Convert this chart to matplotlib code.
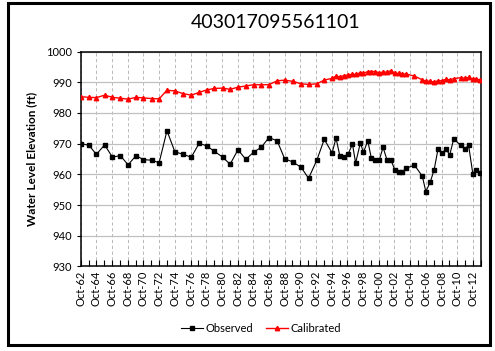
"""Observed vs calibrated water level hydrograph for well 403017095561101."""

import matplotlib

matplotlib.use("Agg")
import matplotlib.pyplot as plt  # noqa: E402
from matplotlib.patches import Rectangle  # noqa: E402

plt.rcParams["font.family"] = ["Lato", "DejaVu Sans"]

WELL_ID = "403017095561101"

# decimal years of each measurement (shared by both series)
years = [
    1962.75, 1963.8, 1964.75, 1965.8, 1966.8, 1967.8, 1968.8, 1969.8, 1970.75, 1971.8,
    1972.75, 1973.75, 1974.75, 1975.8, 1976.85, 1977.85, 1978.8, 1979.8, 1980.85, 1981.8,
    1982.8, 1983.8, 1984.8, 1985.8, 1986.75, 1987.8, 1988.75, 1989.8, 1990.85, 1991.8,
    1992.85, 1993.8, 1994.8, 1995.3, 1995.8, 1996.35, 1996.85, 1997.4, 1997.8, 1998.4,
    1998.8, 1999.35, 1999.8, 2000.3, 2000.8, 2001.3, 2001.8, 2002.3, 2002.8, 2003.3,
    2003.75, 2004.25, 2005.3, 2006.3, 2006.75, 2007.3, 2007.8, 2008.3, 2008.8, 2009.3,
    2009.8, 2010.3, 2011.2, 2011.7, 2012.2, 2012.75, 2013.2, 2013.7,
]
observed = [
    970.0, 969.5, 966.5, 969.6, 965.6, 966.1, 963.1, 966.1, 964.8, 964.6,
    963.8, 974.2, 967.4, 966.5, 965.6, 970.1, 969.3, 967.5, 965.6, 963.3,
    968.0, 964.9, 967.2, 968.9, 972.0, 970.9, 965.1, 964.0, 962.3, 958.7,
    964.6, 971.4, 967.0, 971.8, 965.9, 965.8, 966.7, 969.8, 963.7, 970.2,
    967.2, 970.9, 965.3, 964.6, 964.6, 968.8, 964.7, 964.7, 961.4, 960.7,
    960.7, 962.0, 963.0, 959.4, 954.4, 957.4, 961.4, 968.2, 966.9, 968.2,
    966.4, 971.5, 969.5, 968.2, 969.5, 960.0, 961.3, 960.6,
]
calibrated = [
    985.3, 985.1, 985.0, 985.8, 985.1, 984.8, 984.5, 985.1, 984.9, 984.7,
    984.6, 987.4, 987.2, 986.3, 985.8, 986.7, 987.5, 988.0, 988.1, 987.7,
    988.4, 988.8, 989.2, 989.2, 989.2, 990.5, 990.7, 990.3, 989.5, 989.3,
    989.5, 990.7, 991.3, 992.0, 991.8, 992.2, 992.4, 992.6, 992.6, 993.1,
    992.9, 993.5, 993.5, 993.5, 993.1, 993.3, 993.3, 993.8, 993.0, 992.9,
    992.7, 992.7, 992.0, 990.8, 990.4, 990.3, 990.1, 990.5, 990.5, 991.0,
    990.8, 991.2, 991.5, 991.3, 991.6, 991.0, 991.1, 990.7,
]

label_years = list(range(1962, 2013, 2))
tick_years = list(range(1962, 2014))
y_ticks = list(range(930, 1001, 10))


def main():
    fig = plt.figure(figsize=(4.95, 3.51), dpi=100)
    fig.patch.set_facecolor("white")
    fig.patches.append(Rectangle((8 / 495, 6 / 351), 482 / 495, 342 / 351,
                                 transform=fig.transFigure, fill=False,
                                 edgecolor="black", lw=2.2))

    ax = fig.add_axes([0.163, 0.241, 0.809, 0.612])
    ax.plot(years, observed, color="black", lw=0.8, marker="s", ms=2.6,
            label="Observed", zorder=3)
    ax.plot(years, calibrated, color="red", lw=1.0, marker="^", ms=3.2,
            label="Calibrated", zorder=3)

    ax.set_xlim(1962.75, 2013.8)
    ax.set_ylim(930, 1000)
    ax.set_yticks(y_ticks)
    ax.set_yticklabels([str(v) for v in y_ticks], fontsize=8)
    ax.set_xticks([y + 0.75 for y in label_years])
    ax.set_xticklabels([f"Oct-{y % 100:02d}" for y in label_years],
                       rotation=90, fontsize=8)
    ax.set_xticks([y + 0.75 for y in tick_years], minor=True)
    ax.tick_params(axis="x", which="both", direction="in", length=4, width=0.8, pad=3)
    ax.tick_params(axis="y", direction="out", length=3, width=0.8)

    ax.grid(axis="y", color="#c0c0c0", lw=0.9, ls="-")
    ax.grid(axis="x", which="major", color="#b0b0b0", lw=0.6, ls=(0, (4, 3)))
    ax.set_axisbelow(True)
    for sp in ax.spines.values():
        sp.set_linewidth(1.1)

    ax.set_ylabel("Water Level Elevation (ft)", fontsize=8.5, fontweight="bold",
                  labelpad=6)
    fig.text(0.556, 0.937, WELL_ID, ha="center", va="center", fontsize=14)
    fig.legend(loc="center", bbox_to_anchor=(0.527, 0.063), ncol=2, frameon=False,
               fontsize=8, handlelength=2.0, handletextpad=0.2, columnspacing=1.2)

    fig.savefig("out.png", dpi=100)
    plt.close(fig)


if __name__ == "__main__":
    main()
